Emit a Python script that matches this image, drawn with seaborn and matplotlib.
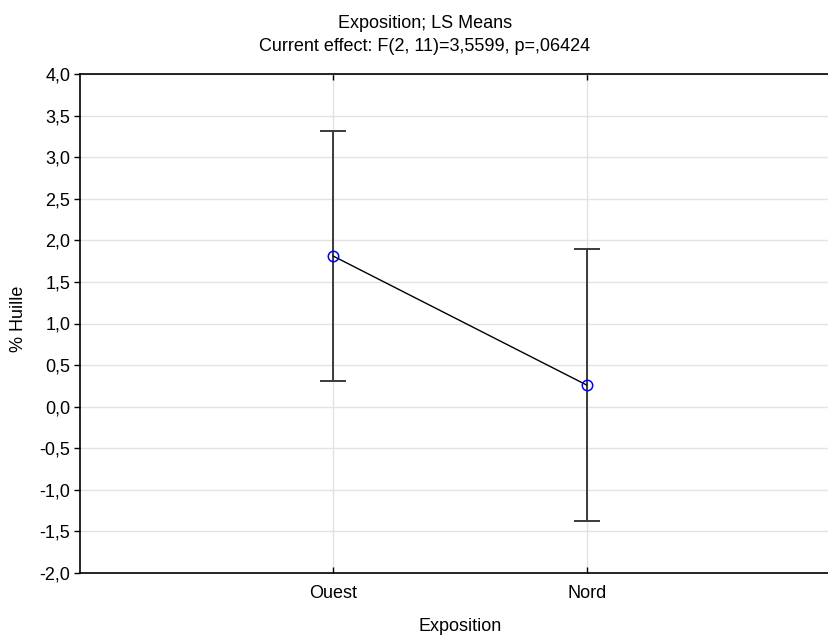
import matplotlib
matplotlib.use("Agg")
import matplotlib.pyplot as plt
import seaborn as sns
import pandas as pd
from matplotlib.ticker import FuncFormatter, MultipleLocator

categories = ["Ouest", "Nord"]
means = [1.81, 0.26]
lower = [0.31, -1.37]
upper = [3.32, 1.89]

sns.set_style("white")
plt.rcParams['font.family'] = ['Liberation Sans', 'DejaVu Sans']
plt.rcParams['text.color'] = 'black'
plt.rcParams['xtick.color'] = 'black'
plt.rcParams['ytick.color'] = 'black'

df = pd.DataFrame({"Exposition": categories, "val": means, "pos": list(range(len(categories)))})

fig = plt.figure(figsize=(8.29, 6.35), dpi=100)
ax = fig.add_axes([80/829, 62/635, 760/829, 499/635])

ax.set_xlim(-1, 2)
ax.set_ylim(-2.0, 4.0)
ax.yaxis.set_major_locator(MultipleLocator(0.5))
ax.yaxis.set_major_formatter(FuncFormatter(lambda v, p: f"{v:.1f}".replace(".", ",")))
ax.set_xticks(df["pos"])
ax.set_xticklabels(categories)

ax.grid(True, color="#e3e3e3", linewidth=1.0)
ax.set_axisbelow(True)

yerr = [[m - l for m, l in zip(means, lower)], [u - m for m, u in zip(means, upper)]]
ax.errorbar(df["pos"], means, yerr=yerr, fmt="none", ecolor="#3a3a3a",
            elinewidth=1.4, capsize=9.4, capthick=1.4, zorder=2)
sns.lineplot(data=df, x="pos", y="val", ax=ax, color="black", linewidth=1.0,
             marker="o", markersize=7.5, markerfacecolor="none",
             markeredgecolor="blue", markeredgewidth=1.1, zorder=3)

for side in ["top", "left", "bottom"]:
    ax.spines[side].set_color("black")
    ax.spines[side].set_linewidth(1.2)
ax.spines["right"].set_visible(False)

ax.tick_params(axis="y", direction="out", length=4, width=1, labelsize=13, pad=3, left=True)
ax.tick_params(axis="x", direction="in", length=4, width=1, labelsize=13, pad=9, top=True, bottom=True)
ax.set_xlabel("")
ax.set_ylabel("")

fig.text(425/829, 1 - 28/635, "Exposition; LS Means", ha="center", va="baseline", fontsize=13)
fig.text(425/829, 1 - 51/635, "Current effect: F(2, 11)=3,5599, p=,06424", ha="center", va="baseline", fontsize=13)
fig.text(460/829, 1 - 631/635, "Exposition", ha="center", va="baseline", fontsize=13)
fig.text(19/829, 1 - 319/635, "% Huille", ha="center", va="center", fontsize=13, rotation=90)

fig.savefig("out.png", dpi=100)
